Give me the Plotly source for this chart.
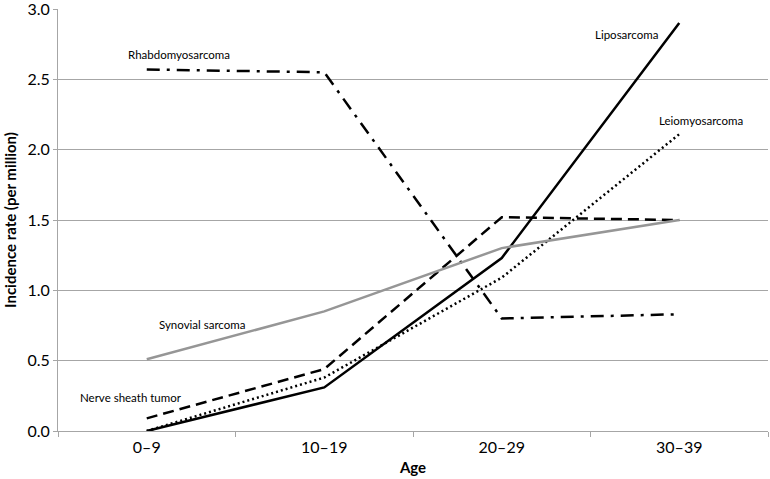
import plotly.graph_objects as go

ages = ["0–9", "10–19", "20–29", "30–39"]
rhabdo = [2.57, 2.55, 0.80, 0.83]
lipo = [0.0, 0.31, 1.23, 2.90]
leio = [0.0, 0.38, 1.09, 2.11]
nerve = [0.09, 0.44, 1.52, 1.50]
synovial = [0.51, 0.85, 1.30, 1.50]

label_names = ["Rhabdomyosarcoma", "Liposarcoma", "Leiomyosarcoma", "Synovial sarcoma", "Nerve sheath tumor"]
label_x = [0.18, 2.70, 3.12, 0.31, -0.09]
label_y = [2.68, 2.82, 2.21, 0.76, 0.24]

FONT = "Lato, 'Open Sans', sans-serif"

fig = go.Figure()
series = [
    (rhabdo, dict(color="black", width=2.5, dash="13px,7px,3px,7px")),
    (lipo, dict(color="black", width=2.5)),
    (leio, dict(color="black", width=2.5, dash="2px,3px")),
    (nerve, dict(color="black", width=2.5, dash="11px,6px")),
    (synovial, dict(color="#969696", width=2.5)),
]
for vals, ln in series:
    fig.add_trace(go.Scatter(x=ages, y=vals, mode="lines", line=ln, showlegend=False))

for name, x, y in zip(label_names, label_x, label_y):
    fig.add_annotation(x=x, y=y, xref="x", yref="y", text=name, showarrow=False,
                       font=dict(family=FONT, size=11.5, color="black"))

fig.update_layout(
    width=770, height=479,
    margin=dict(l=58, r=2, t=9, b=48),
    paper_bgcolor="white", plot_bgcolor="white",
    font=dict(family=FONT, color="black"),
)
fig.update_xaxes(
    type="category", range=[-0.5, 3.5], showgrid=False, automargin=False,
    showline=True, linecolor="#a6a6a6", linewidth=1,
    ticks="outside", tickson="boundaries", ticklen=5, tickcolor="#a6a6a6",
    ticklabelstandoff=2,
    tickfont=dict(size=16), title=dict(text="<b>Age</b>", font=dict(size=15), standoff=7),
)
fig.update_yaxes(
    range=[0, 3.0], dtick=0.5, tickformat=".1f", automargin=False,
    showgrid=True, gridcolor="#a6a6a6", gridwidth=1,
    showline=True, linecolor="#a6a6a6", linewidth=1,
    ticks="outside", ticklen=4, tickcolor="#a6a6a6", ticklabeloverflow="allow",
    tickfont=dict(size=16), zeroline=False,
    title=dict(text="<b>Incidence rate (per million)</b>", font=dict(size=15), standoff=7),
)
fig.write_html("out.html", config={"displayModeBar": False},
               post_script="document.body.style.margin='0';document.body.style.overflow='hidden';")
